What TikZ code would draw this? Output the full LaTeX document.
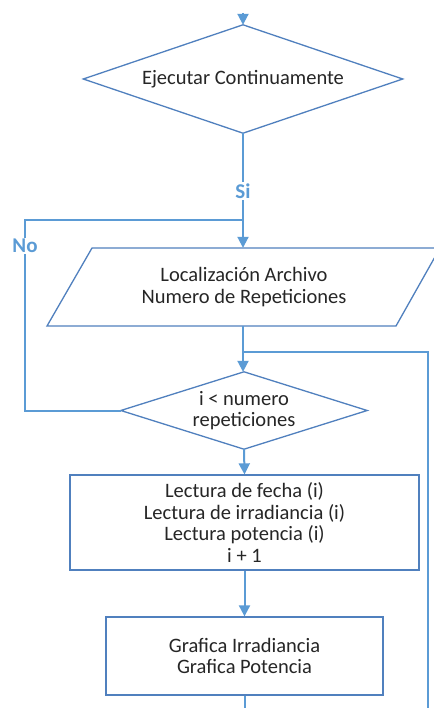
\documentclass[tikz,border=0pt]{standalone}
\usepackage{fontspec}
\setmainfont{Carlito}
\usetikzlibrary{arrows.meta,shapes.geometric}
\definecolor{lineblue}{HTML}{5B9BD5}
\definecolor{edgeblue}{HTML}{5080BE}
\definecolor{textgray}{HTML}{262626}
\tikzset{
  conn/.style={draw=lineblue,line width=2pt},
  arr/.style={conn,-{Triangle[width=11pt,length=11pt]}},
  shapeline/.style={draw=edgeblue,line width=1.3pt},
  plaintext/.style={rectangle,inner sep=0pt,align=center,text=textgray,font=\fontsize{20.5}{21.7}\selectfont},
  procbox/.style={plaintext,shapeline,fill=white},
  branchlabel/.style={fill=white,inner sep=1.5pt,text=lineblue,font=\fontsize{21}{22}\selectfont\bfseries}
}
\begin{document}
\begin{tikzpicture}[x=1pt,y=-1pt]
\useasboundingbox (0,0) rectangle (433,708);
\fill[white] (0,0) rectangle (433,708);
% decision 1
\node[plaintext,minimum width=319pt,minimum height=108pt] (d1) at (243,79) {};
\draw[shapeline,fill=white] (d1.north) -- (d1.east) -- (d1.south) -- (d1.west) -- cycle;
\node[plaintext] (d1t) at (d1.center) {Ejecutar Continuamente};
\coordinate (top) at (243,13);
\draw[arr] (top) -- (d1.north);
% input parallelogram
\draw[shapeline,fill=white] (92,248) -- (440,248) -- (396,326) -- (47,326) -- cycle;
\node[plaintext,minimum width=300pt,minimum height=78pt] (inp) at (244,287) {Localización Archivo\\Numero de Repeticiones};
% decision 2
\node[plaintext,minimum width=246pt,minimum height=77pt] (d2) at (244,410.5) {};
\draw[shapeline,fill=white] (d2.north) -- (d2.east) -- (d2.south) -- (d2.west) -- cycle;
\node[plaintext] (d2t) at (d2.center) {i < numero\\repeticiones};
% process 1
\node[procbox,minimum width=349pt,minimum height=95pt] (p1) at (244.5,522.5) {Lectura de fecha (i)\\Lectura de irradiancia (i)\\Lectura potencia (i)\\i + 1};
% process 2
\node[procbox,minimum width=277pt,minimum height=78pt] (p2) at (244.5,656) {Grafica Irradiancia\\Grafica Potencia};
% connectors
\coordinate (jn) at (243,220);
\coordinate (nol) at (25,220);
\coordinate (nob) at (25,410.5);
\coordinate (lp) at (243,352);
\coordinate (lpr) at (428,352);
\coordinate (lpb) at (428,708);
\coordinate (endp) at (244.5,708);
\draw[conn] (d1.south) -- (jn);
\draw[arr] (jn) -- (inp.north -| jn);
\node[branchlabel] (si) at (243,191) {Si};
\draw[conn] (jn) -- (nol) -- (nob) -- (d2.west);
\node[branchlabel] (no) at (25,246) {No};
\draw[arr] (inp.south -| lp) -- (d2.north -| lp);
\draw[conn] (lp) -- (lpr) -- (lpb);
\draw[arr] (d2.south) -- (p1.north);
\draw[arr] (p1.south) -- (p2.north);
\draw[conn] (p2.south) -- (endp);
\end{tikzpicture}
\end{document}
